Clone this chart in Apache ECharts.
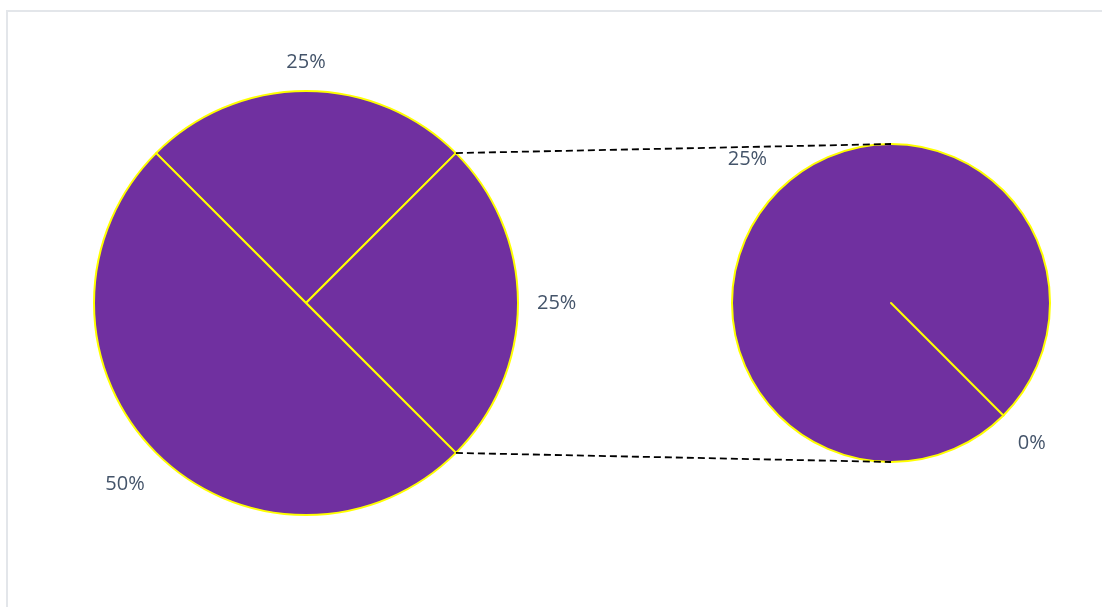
<!DOCTYPE html>
<html>
<head>
<meta charset="utf-8">
<script src="https://cdn.jsdelivr.net/npm/echarts@6/dist/echarts.min.js"></script>
<style>
  html, body { margin: 0; padding: 0; background: #ffffff; }
  #chart { width: 1102px; height: 607px; }
</style>
</head>
<body>
<div id="chart"></div>
<script>
// Primary pie: the slice at index OTHER_INDEX is broken out into the secondary pie
const mainNames = ['Segment 1', 'Other', 'Segment 3'];
const mainValues = [25, 25, 50];
const OTHER_INDEX = 1;

// Secondary pie: breakdown of the "Other" slice
const detailNames = ['Segment 2', 'Segment 4'];
const detailValues = [25, 0];

const FILL = '#7030A0';
const EDGE = '#FFFF00';
const LABEL_COLOR = '#44546A';
const FONT = '"Open Sans", "Noto Sans", sans-serif';

const MAIN = { cx: 306, cy: 303, r: 212, start: 135 };
const DETAIL = { cx: 891, cy: 303, r: 159, start: -45 };
const LABEL_GAP = 19;
const DIAGONAL_EXTRA = 4;

const toRad = d => d * Math.PI / 180;
const sum = a => a.reduce((s, v) => s + v, 0);

// Angle (degrees, counter-clockwise from 3 o'clock) at a cumulative value of a clockwise pie
function angleAt(geo, values, cumValue) {
  return geo.start - 360 * cumValue / sum(values);
}

function midAngle(geo, values, idx) {
  const before = sum(values.slice(0, idx));
  return angleAt(geo, values, before + values[idx] / 2);
}

// Places each value label just outside the rim, centred on the slice's mid direction
function outsideLabels(geo, values) {
  return function (params) {
    const a = toRad(midAngle(geo, values, params.dataIndex));
    const c = Math.cos(a), s = Math.sin(a);
    const w = params.labelRect.width, h = params.labelRect.height;
    const extent = Math.abs(c) * w / 2 + Math.abs(s) * h / 2;
    const d = geo.r + LABEL_GAP + extent + DIAGONAL_EXTRA * Math.abs(Math.sin(2 * a));
    return {
      x: geo.cx + d * c,
      y: geo.cy - d * s,
      align: 'center',
      verticalAlign: 'middle'
    };
  };
}

function pieSeries(geo, names, values) {
  return {
    type: 'pie',
    center: [geo.cx, geo.cy],
    radius: [0, geo.r],
    startAngle: geo.start,
    clockwise: true,
    avoidLabelOverlap: false,
    stillShowZeroSum: true,
    silent: true,
    itemStyle: { color: FILL, borderColor: EDGE, borderWidth: 2 },
    label: {
      show: true,
      position: 'outside',
      formatter: p => p.value + '%',
      color: LABEL_COLOR,
      fontFamily: FONT,
      fontSize: 20
    },
    labelLine: { show: false },
    labelLayout: outsideLabels(geo, values),
    data: names.map((n, i) => ({ name: n, value: values[i] }))
  };
}

// Connector lines from the edges of the "Other" slice to the top and bottom of the secondary pie
const otherFrom = angleAt(MAIN, mainValues, sum(mainValues.slice(0, OTHER_INDEX)));
const otherTo = angleAt(MAIN, mainValues, sum(mainValues.slice(0, OTHER_INDEX + 1)));
function rimPoint(geo, deg) {
  return [geo.cx + geo.r * Math.cos(toRad(deg)), geo.cy - geo.r * Math.sin(toRad(deg))];
}
const pUpper = rimPoint(MAIN, otherFrom);
const pLower = rimPoint(MAIN, otherTo);
const qUpper = rimPoint(DETAIL, 90);
const qLower = rimPoint(DETAIL, -90);

const connectorStyle = { stroke: '#000000', lineWidth: 1.8, lineDash: [7, 4] };

const chart = echarts.init(document.getElementById('chart'), null, { renderer: 'canvas' });
chart.setOption({
  animation: false,
  backgroundColor: '#ffffff',
  graphic: [
    {
      type: 'rect', z: 0,
      shape: { x: 7, y: 11, width: 1200, height: 700 },
      style: { fill: 'none', stroke: '#E3E6EA', lineWidth: 2 }
    },
    {
      type: 'line', z: 10,
      shape: { x1: pUpper[0], y1: pUpper[1], x2: qUpper[0], y2: qUpper[1] },
      style: connectorStyle
    },
    {
      type: 'line', z: 10,
      shape: { x1: pLower[0], y1: pLower[1], x2: qLower[0], y2: qLower[1] },
      style: connectorStyle
    }
  ],
  series: [
    pieSeries(MAIN, mainNames, mainValues),
    pieSeries(DETAIL, detailNames, detailValues)
  ]
});
</script>
</body>
</html>
